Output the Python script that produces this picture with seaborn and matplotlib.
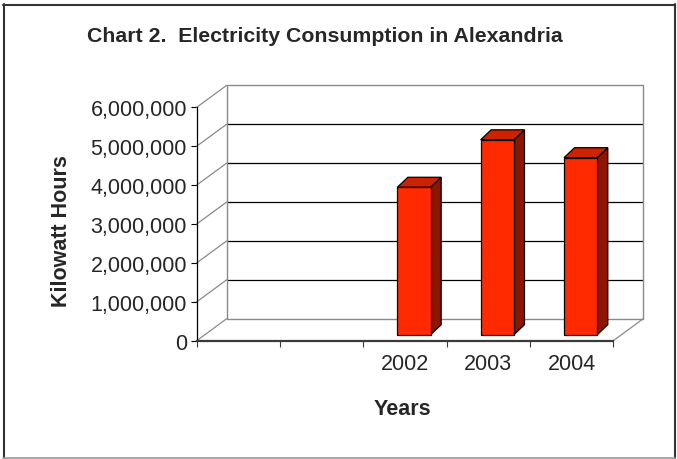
import numpy as np
import pandas as pd
import matplotlib
matplotlib.use("Agg")
import matplotlib.pyplot as plt
from matplotlib.patches import Polygon
from matplotlib.lines import Line2D
from matplotlib.transforms import offset_copy
from matplotlib.ticker import FixedLocator, FuncFormatter
import seaborn as sns

# ---- data ----
categories = ["", " ", "2002", "2003", "2004"]
years = ["2002", "2003", "2004"]
kwh = [3790000, 5010000, 4550000]
y_ticks = [0, 1000000, 2000000, 3000000, 4000000, 5000000, 6000000]

title = "Chart 2.  Electricity Consumption in Alexandria"
x_label = "Years"
y_label = "Kilowatt Hours"

# ---- style ----
FACE, TOP, SIDE = "#FF2A00", "#CC2200", "#8E1600"
WALL = "#8A8A8A"

sns.set_style("ticks")
plt.rcParams["font.family"] = ["Liberation Sans", "DejaVu Sans"]

W, H, DPI = 677, 460, 100
fig = plt.figure(figsize=(W / DPI, H / DPI), dpi=DPI, facecolor="white")

# front plane of the 3-D box (pixels)
left, right, top, bottom = 196.7, 613.3, 108.3, 341.7
ax = fig.add_axes([left / W, 1 - bottom / H, (right - left) / W, (bottom - top) / H])
ax.set_facecolor("none")

df = pd.DataFrame({"year": years, "kwh": kwh})
sns.barplot(data=df, x="year", y="kwh", order=categories, color=FACE,
            saturation=1, width=0.4, edgecolor="black", linewidth=0.9,
            ax=ax, zorder=5)

ax.set_xlim(-0.5, len(categories) - 0.5)
ax.set_ylim(0, y_ticks[-1])

# pixel -> data unit factors
sx = (len(categories)) / (right - left)
sy = y_ticks[-1] / (bottom - top)

# depth offsets (pixels)
WX, WY = 30, 22      # back wall
BX, BY = 9, 6        # front face of the bars
DX, DY = 10.5, 10    # depth of each bar

wall_tr = offset_copy(ax.transData, fig=fig, x=WX, y=WY, units="dots")
bar_tr = offset_copy(ax.transData, fig=fig, x=BX, y=BY, units="dots")

x_lo, x_hi = ax.get_xlim()

# back wall: gridlines and frame
ax.hlines(y_ticks[1:-1], x_lo, x_hi, transform=wall_tr, colors="black",
          lw=0.9, clip_on=False, zorder=1)
ax.plot([x_lo, x_lo, x_hi, x_hi], [0, y_ticks[-1], y_ticks[-1], 0],
        transform=wall_tr, color=WALL, lw=1, clip_on=False, zorder=1)
ax.hlines([0], x_lo, x_hi, transform=wall_tr, colors=WALL, lw=1,
          clip_on=False, zorder=1)

# side wall diagonals
for yv in y_ticks:
    ax.plot([x_lo, x_lo + WX * sx], [yv, yv + WY * sy], color=WALL, lw=0.9,
            clip_on=False, zorder=1)
# floor right edge
ax.plot([x_hi, x_hi + WX * sx], [0, WY * sy], color=WALL, lw=0.9,
        clip_on=False, zorder=1)

# bars: move to their depth and add top / side faces
for p in list(ax.patches):
    h = p.get_height()
    if not np.isfinite(h) or h == 0:
        continue
    p.set_transform(bar_tr)
    p.set_clip_on(False)
    x0 = p.get_x()
    x1 = x0 + p.get_width()
    ddx, ddy = DX * sx, DY * sy
    top_face = Polygon([(x0, h), (x1, h), (x1 + ddx, h + ddy), (x0 + ddx, h + ddy)],
                       closed=True, facecolor=TOP, edgecolor="black", lw=0.9,
                       transform=bar_tr, clip_on=False, zorder=4)
    side_face = Polygon([(x1, 0), (x1, h), (x1 + ddx, h + ddy), (x1 + ddx, ddy)],
                        closed=True, facecolor=SIDE, edgecolor="black", lw=0.9,
                        transform=bar_tr, clip_on=False, zorder=4)
    ax.add_patch(side_face)
    ax.add_patch(top_face)

# axes lines and ticks
ax.spines["top"].set_visible(False)
ax.spines["right"].set_visible(False)
ax.spines["left"].set_color("black")
ax.spines["left"].set_linewidth(0.9)
ax.spines["bottom"].set_color("#3A3A3A")
ax.spines["bottom"].set_linewidth(1.6)
ax.spines["left"].set_zorder(2)

ax.yaxis.set_major_locator(FixedLocator(y_ticks))
ax.yaxis.set_major_formatter(FuncFormatter(lambda v, _: f"{v:,.0f}"))
ax.tick_params(axis="y", direction="out", length=4.5, width=0.8,
               color="black", pad=2.5, labelsize=15.5, left=True)

ax.set_xticks(np.arange(x_lo, x_hi + 0.01, 1.0))
ax.set_xticklabels([])
ax.set_xticks(range(len(categories)), minor=True)
ax.set_xticklabels(categories, minor=True)
ax.tick_params(axis="x", which="major", direction="out", length=4,
               width=0.8, color="#3A3A3A", bottom=True)
ax.tick_params(axis="x", which="minor", length=0, pad=9, labelsize=15.5)

ax.set_xlabel("")
ax.set_ylabel("")

# titles
fig.text(325 / W, 1 - 41.5 / H, title, ha="center", va="baseline",
         fontsize=15.3, fontweight="bold")
fig.text(402 / W, 1 - 415 / H, x_label, ha="center", va="baseline",
         fontsize=15.5, fontweight="bold")
fig.text(67.3 / W, 1 - 231 / H, y_label, ha="center", va="baseline",
         rotation=90, rotation_mode="anchor", fontsize=15.5, fontweight="bold")

# chart border
def border(xs, ys, color, lw):
    fig.add_artist(Line2D([x / W for x in xs], [1 - y / H for y in ys],
                          color=color, lw=lw, transform=fig.transFigure))

border([3.7, 3.7], [5, 459], "#333333", 1.5)
border([3, 675], [6, 6], "#333333", 1.5)
border([674.5, 674.5], [5, 459], "#333333", 1.5)
border([3, 675], [458.5, 458.5], "#9A9A9A", 1.2)

fig.savefig("out.png", dpi=DPI, facecolor="white")
